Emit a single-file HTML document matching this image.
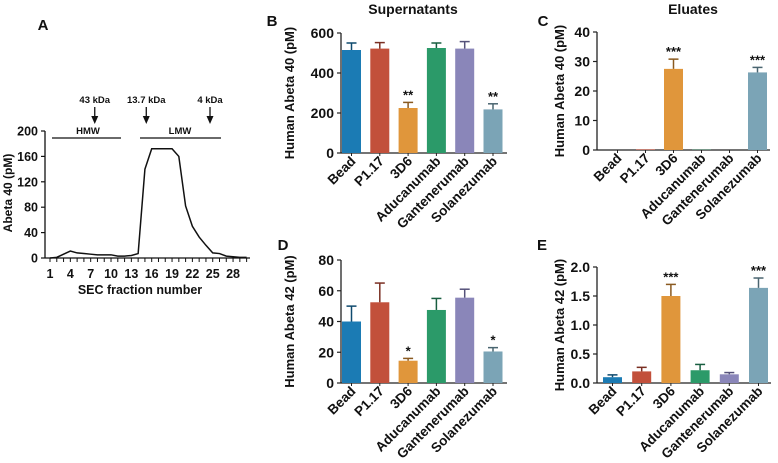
<!DOCTYPE html>
<html><head><meta charset="utf-8"><style>
html,body{margin:0;padding:0;background:#fff;}
svg{display:block;font-family:"Liberation Sans",Arial,sans-serif;font-weight:bold;}
</style></head><body>
<svg id="fig" width="778" height="463" viewBox="0 0 778 463" xmlns="http://www.w3.org/2000/svg"></svg>
<script>
// ---- Panel A data ----
const secFractions = [1,2,3,4,5,6,7,8,9,10,11,12,13,14,15,16,17,18,19,20,21,22,23,24,25,26,27,28,29,30];
const secValues = [0,1,6,11,8,7,6,5,5,5,3,3,4,7,140,172,172,172,172,160,82,50,33,20,8,7,3,2,1,1];
const secYTicks = [0,40,80,120,160,200];
const secXTicks = [1,4,7,10,13,16,19,22,25,28];
const markerLabels = ["43 kDa","13.7 kDa","4 kDa"];
const markerFractions = [7.6,15.2,24.6];
// ---- Bar panels data ----
const categories = ["Bead","P1.17","3D6","Aducanumab","Gantenerumab","Solanezumab"];
const supAb40 = [515,522,225,525,522,218];
const supAb40Err = [35,30,28,25,35,28];
const supAb40Sig = ["","","**","","","**"];
const eluAb40 = [0,0.2,27.5,0.1,0,26.3];
const eluAb40Err = [0,0,3.3,0,0,1.7];
const eluAb40Sig = ["","","***","","","***"];
const supAb42 = [40,52.5,14.5,47.5,55.5,20.5];
const supAb42Err = [10,12.5,1.5,7.5,5.5,2.5];
const supAb42Sig = ["","","*","","","*"];
const eluAb42 = [0.1,0.2,1.5,0.22,0.15,1.64];
const eluAb42Err = [0.04,0.07,0.2,0.1,0.03,0.17];
const eluAb42Sig = ["","","***","","","***"];
const ticksB = [0,200,400,600];
const ticksC = [0,10,20,30,40];
const ticksD = [0,20,40,60,80];
const ticksE = [0,0.5,1.0,1.5,2.0];
const tickLabelsE = ["0.0","0.5","1.0","1.5","2.0"];

const colors = ["#1b7bb4","#c2503b","#e0963b","#2b9a69","#8a86b9","#7ba4b6"];
const darks = ["#0f4a6e","#7a2f22","#8a5a20","#185e40","#55527a","#4a6570"];
const NS="http://www.w3.org/2000/svg";
const svg=document.getElementById('fig');
function mk(tag,attrs,parent,name,inter){
  const e=document.createElementNS(NS,tag);
  for(const k in attrs) e.setAttribute(k,attrs[k]);
  
  
  (parent||svg).appendChild(e); return e;
}
function txt(x,y,s,size,anchor,name,extra){
  const t=mk('text',Object.assign({x:x,y:y,'font-size':size,'text-anchor':anchor||'middle',fill:'#111'},extra||{}),svg,name);
  t.textContent=s; return t;
}

// ---- Panel A ----
(function(){
  const x0=45,y0=258,yTop=131,xEnd=250;
  const sx=f=>50+(f-1)*6.78;
  const sy=v=>y0-(v/200)*(y0-yTop);
  txt(43,30,"A",15,'middle','panel-a-label');
  mk('line',{x1:x0,y1:y0,x2:x0,y2:yTop,stroke:'#111','stroke-width':1.3},svg,'a-y-axis');
  mk('line',{x1:x0,y1:y0,x2:xEnd,y2:y0,stroke:'#111','stroke-width':1.3},svg,'a-x-axis');
  secYTicks.forEach(v=>{
    mk('line',{x1:x0-4,y1:sy(v),x2:x0,y2:sy(v),stroke:'#111','stroke-width':1.2},svg,'a-y-tick');
    txt(38,sy(v)+4.5,String(v),12.5,'end','a-y-tick-label');
  });
  for(let f=1;f<=30;f++){
    mk('line',{x1:sx(f),y1:y0,x2:sx(f),y2:y0+4,stroke:'#111','stroke-width':1},svg,'a-x-tick');
  }
  secXTicks.forEach(f=>txt(sx(f),278,String(f),12.5,'middle','a-x-tick-label'));
  txt(140,294,"SEC fraction number",12.5,'middle','a-x-axis-title');
  txt(0,0,"Abeta 40 (pM)",12,'middle','a-y-axis-title',{transform:'translate(12,193) rotate(-90)'});
  const pts=secFractions.map((f,i)=>sx(f)+','+sy(secValues[i])).join(' ');
  mk('polyline',{points:pts,fill:'none',stroke:'#111','stroke-width':1.5},svg,'a-sec-line');
  mk('line',{x1:52,y1:138,x2:121,y2:138,stroke:'#111','stroke-width':1.3},svg,'hmw-bar');
  txt(88,134,"HMW",9.5,'middle','hmw-label');
  mk('line',{x1:140,y1:138,x2:221,y2:138,stroke:'#111','stroke-width':1.3},svg,'lmw-bar');
  txt(180,134,"LMW",9.5,'middle','lmw-label');
  markerFractions.forEach((f,i)=>{
    const x=sx(f);
    txt(x,103,markerLabels[i],9.5,'middle','marker-label');
    mk('line',{x1:x,y1:107,x2:x,y2:118,stroke:'#111','stroke-width':1.3},svg,'marker-arrow-shaft');
    mk('polygon',{points:(x-3.5)+',116 '+(x+3.5)+',116 '+x+',124',fill:'#111'},svg,'marker-arrow-head');
  });
})();

// ---- bar panels ----
function barPanel(p){
  const sy=v=>p.y0-(v/p.max)*(p.y0-p.yTop);
  const cx=i=>p.barStart+p.bw/2+i*p.step;
  txt(p.letterX,p.letterY,p.letter,15,'middle',p.key+'-panel-label');
  if(p.title) txt(p.titleX,14,p.title,14,'middle',p.key+'-title');
  mk('line',{x1:p.x0,y1:p.y0,x2:p.x0,y2:p.yTop,stroke:'#222','stroke-width':1.3},svg,p.key+'-y-axis');
  mk('line',{x1:p.x0,y1:p.y0,x2:p.xEnd,y2:p.y0,stroke:'#222','stroke-width':1.3},svg,p.key+'-x-axis');
  p.ticks.forEach((v,i)=>{
    mk('line',{x1:p.x0-4,y1:sy(v),x2:p.x0,y2:sy(v),stroke:'#222','stroke-width':1.2},svg,p.key+'-y-tick');
    txt(p.x0-7,sy(v)+5,p.tickLabels?p.tickLabels[i]:String(v),14,'end',p.key+'-y-tick-label');
  });
  txt(0,0,p.ytitle,13,'middle',p.key+'-y-axis-title',{transform:'translate('+p.ytx+','+((p.y0+p.yTop)/2)+') rotate(-90)'});
  categories.forEach((c,i)=>{
    const v=p.vals[i], e=p.errs[i], x=cx(i);
    const top=sy(v);
    if(v>0) mk('rect',{x:x-p.bw/2,y:top,width:p.bw,height:p.y0-top,fill:colors[i]},svg,p.key+'-bar-'+c.toLowerCase().replace('.',''));
    if(e>0){
      const et=sy(v+e);
      mk('line',{x1:x,y1:top,x2:x,y2:et,stroke:darks[i],'stroke-width':1.5},svg,p.key+'-error-bar');
      mk('line',{x1:x-5,y1:et,x2:x+5,y2:et,stroke:darks[i],'stroke-width':1.5},svg,p.key+'-error-cap');
    }
    if(p.sig[i]) txt(x,sy(v+e)-3,p.sig[i],13,'middle',p.key+'-significance');
    mk('line',{x1:x,y1:p.y0,x2:x,y2:p.y0+3,stroke:'#222','stroke-width':1},svg,p.key+'-x-tick');
    txt(0,0,c,13.5,'end',p.key+'-x-tick-label',{transform:'translate('+(x+5)+','+(p.y0+9)+') rotate(-45)'});
  });
}
barPanel({key:'b',letter:'B',letterX:272,letterY:26,title:'Supernatants',titleX:413,x0:341,xEnd:507,y0:153,yTop:33,max:600,
  barStart:342,step:28.3,bw:19,vals:supAb40,errs:supAb40Err,sig:supAb40Sig,ticks:ticksB,ytitle:'Human Abeta 40  (pM)',ytx:294});
barPanel({key:'c',letter:'C',letterX:543,letterY:26,title:'Eluates',titleX:693,x0:597,xEnd:770,y0:150,yTop:32,max:40,
  barStart:608,step:28,bw:19,vals:eluAb40,errs:eluAb40Err,sig:eluAb40Sig,ticks:ticksC,ytitle:'Human Abeta 40  (pM)',ytx:564});
barPanel({key:'d',letter:'D',letterX:283,letterY:250,title:'',x0:341,xEnd:507,y0:383,yTop:260,max:80,
  barStart:342,step:28.3,bw:19,vals:supAb42,errs:supAb42Err,sig:supAb42Sig,ticks:ticksD,ytitle:'Human Abeta 42  (pM)',ytx:294});
barPanel({key:'e',letter:'E',letterX:542,letterY:250,title:'',x0:597,xEnd:771,y0:383,yTop:267,max:2,
  barStart:603,step:29.2,bw:19,vals:eluAb42,errs:eluAb42Err,sig:eluAb42Sig,ticks:ticksE,tickLabels:tickLabelsE,ytitle:'Human Abeta 42  (pM)',ytx:564});
</script>
</body></html>
